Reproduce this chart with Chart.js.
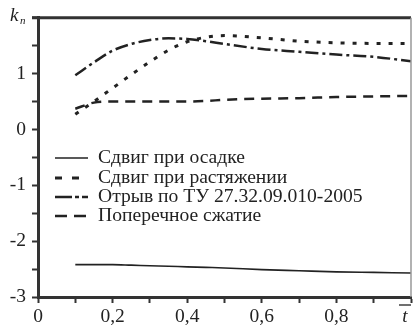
<!DOCTYPE html>
<html>
<head>
<meta charset="utf-8">
<script src="https://cdn.jsdelivr.net/npm/chart.js@4.4.1/dist/chart.umd.min.js"></script>
<style>
  html, body { margin: 0; padding: 0; background: #fff; }
  #wrap { width: 413px; height: 333px; }
</style>
</head>
<body>
<div id="wrap"><canvas id="chart" width="413" height="333"></canvas></div>
<script>
// t values (x axis)
const tValues = [0.1, 0.15, 0.2, 0.25, 0.3, 0.35, 0.4, 0.45, 0.5, 0.6, 0.7, 0.8, 0.9, 1.0];

// k_n for each case
const shearUpset   = [-2.42, -2.42, -2.42, -2.43, -2.44, -2.45, -2.46, -2.47, -2.48, -2.51, -2.53, -2.55, -2.56, -2.57];
const shearTension = [0.27, 0.5, 0.74, 0.98, 1.21, 1.42, 1.57, 1.65, 1.68, 1.64, 1.58, 1.55, 1.54, 1.54];
const pullOff      = [0.97, 1.2, 1.41, 1.53, 1.6, 1.63, 1.62, 1.58, 1.53, 1.44, 1.39, 1.34, 1.3, 1.22];
const transverse   = [0.37, 0.48, 0.5, 0.5, 0.5, 0.5, 0.5, 0.51, 0.53, 0.55, 0.56, 0.58, 0.59, 0.6];

const seriesNames = [
    'Сдвиг при осадке',
    'Сдвиг при растяжении',
    'Отрыв по ТУ 27.32.09.010-2005',
    'Поперечное сжатие'
];

const INK = '#222';
const FONT = '"Liberation Serif", "Times New Roman", serif';

function toPoints(ys) {
    return ys.map((y, i) => ({ x: tValues[i], y: y }));
}

function lineSet(label, ys, dash, width) {
    return {
        label: label,
        data: toPoints(ys),
        borderColor: INK,
        borderWidth: width,
        borderDash: dash,
        borderCapStyle: 'butt',
        pointRadius: 0,
        fill: false,
        cubicInterpolationMode: 'monotone'
    };
}

// legend inside plot + frame + axis titles
const legendDash = [[], [7, 10], [17, 3, 4, 3], [12, 7]];
const extras = {
    id: 'extras',
    afterDraw(chart) {
        const ctx = chart.ctx;
        const area = chart.chartArea;
        ctx.save();

        // top and right frame lines
        ctx.strokeStyle = '#333';
        ctx.lineWidth = 3;
        ctx.beginPath();
        ctx.moveTo(area.left - 6, area.top);
        ctx.lineTo(area.right, area.top);
        ctx.stroke();
        ctx.strokeStyle = '#999';
        ctx.lineWidth = 1.5;
        ctx.beginPath();
        ctx.moveTo(area.right, area.top);
        ctx.lineTo(area.right, area.bottom);
        ctx.stroke();

        // legend
        const rowY = [158, 178, 197, 216];
        chart.data.datasets.forEach((ds, i) => {
            const y = rowY[i];
            ctx.strokeStyle = ds.borderColor;
            ctx.lineWidth = ds.borderWidth;
            ctx.setLineDash(legendDash[i]);
            ctx.beginPath();
            ctx.moveTo(55, y);
            ctx.lineTo(88, y);
            ctx.stroke();
            ctx.setLineDash([]);
            ctx.fillStyle = INK;
            ctx.font = '19.6px ' + FONT;
            ctx.textAlign = 'left';
            ctx.textBaseline = 'middle';
            ctx.fillText(ds.label, 98, y);
        });

        // k_n label
        ctx.fillStyle = INK;
        ctx.textBaseline = 'alphabetic';
        ctx.font = 'italic 19px ' + FONT;
        ctx.fillText('k', 10, 21);
        ctx.font = 'italic 11px ' + FONT;
        ctx.fillText('n', 20, 24);

        // t with overline
        ctx.font = 'italic 19px ' + FONT;
        ctx.textAlign = 'center';
        const tx = chart.scales.x.getPixelForValue(1) - 6;
        ctx.fillText('t', tx, 322);
        ctx.strokeStyle = INK;
        ctx.lineWidth = 1.3;
        ctx.beginPath();
        ctx.moveTo(tx - 6, 305);
        ctx.lineTo(tx + 6, 305);
        ctx.stroke();

        ctx.restore();
    }
};

function draw() {
    new Chart(document.getElementById('chart'), {
        type: 'line',
        data: {
            datasets: [
                lineSet(seriesNames[0], shearUpset, [], 1.6),
                lineSet(seriesNames[1], shearTension, [4, 8], 3),
                lineSet(seriesNames[2], pullOff, [13, 4, 3, 4], 2.5),
                lineSet(seriesNames[3], transverse, [10, 7], 2.5)
            ]
        },
        options: {
            responsive: false,
            animation: false,
            layout: { padding: { top: 15, right: 1, left: 0, bottom: 0 } },
            plugins: { legend: { display: false }, tooltip: { enabled: false } },
            scales: {
                x: {
                    type: 'linear',
                    min: 0,
                    max: 1,
                    afterFit(scale) { scale.height = 36; },
                    border: { color: '#333', width: 3 },
                    grid: { drawOnChartArea: false, drawTicks: true, tickLength: 6, tickColor: '#333', tickWidth: 2 },
                    ticks: {
                        stepSize: 0.1,
                        autoSkip: false,
                        maxRotation: 0,
                        padding: 2,
                        color: INK,
                        font: { family: FONT, size: 19.5 },
                        callback(v) {
                            const k = Math.round(v * 10);
                            if (k % 2 !== 0 || k === 10) return '';
                            return k === 0 ? '0' : '0,' + k;
                        }
                    }
                },
                y: {
                    min: -3,
                    max: 2,
                    afterFit(scale) { scale.width = 38; },
                    border: { color: '#333', width: 3 },
                    grid: { drawOnChartArea: false, drawTicks: true, tickLength: 6, tickColor: '#333', tickWidth: 2 },
                    ticks: {
                        stepSize: 0.5,
                        autoSkip: false,
                        padding: 6,
                        color: INK,
                        font: { family: FONT, size: 19.5 },
                        callback(v) {
                            if (Math.abs(v - Math.round(v)) > 1e-6 || v === 2) return '';
                            return String(v);
                        }
                    }
                }
            }
        },
        plugins: [extras]
    });
}

Promise.all([
    document.fonts.load('19px "Liberation Serif"'),
    document.fonts.load('italic 19px "Liberation Serif"')
]).then(draw, draw);
</script>
</body>
</html>
